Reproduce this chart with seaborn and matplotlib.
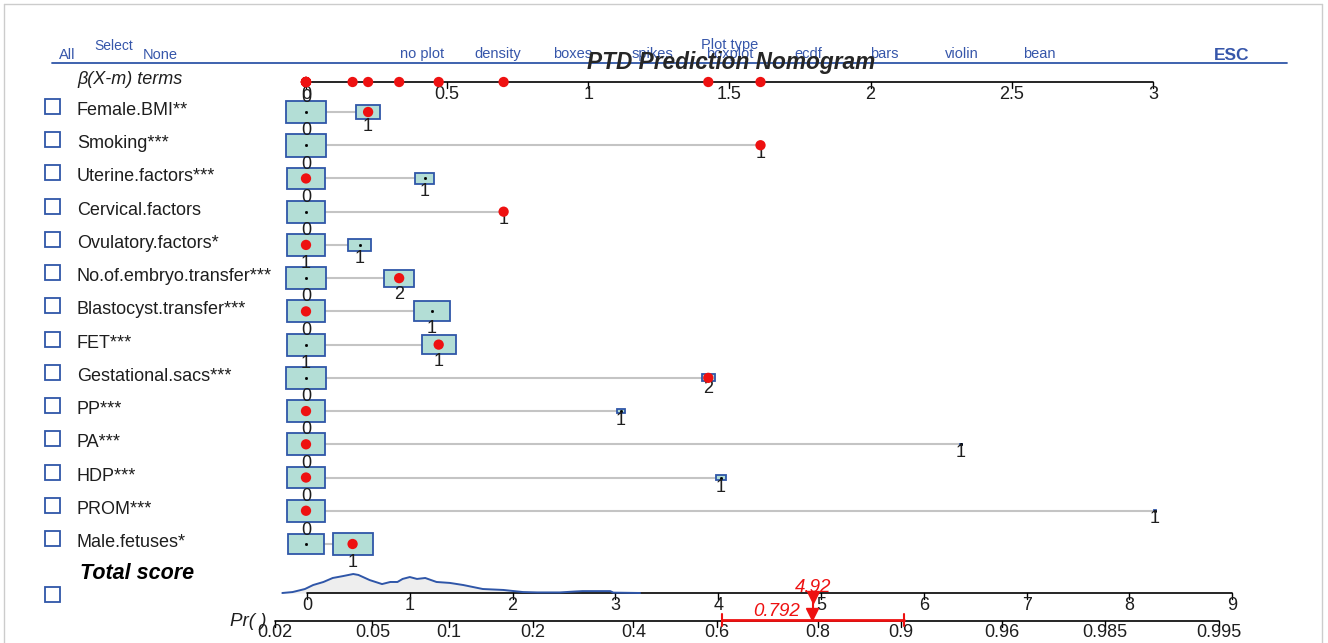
import numpy as np
import matplotlib
matplotlib.use('Agg')
import matplotlib.pyplot as plt
from matplotlib.patches import Rectangle
import seaborn as sns

# nomogram terms (one row per predictor)
variables = ['Female.BMI**', 'Smoking***', 'Uterine.factors***', 'Cervical.factors',
             'Ovulatory.factors*', 'No.of.embryo.transfer***', 'Blastocyst.transfer***',
             'FET***', 'Gestational.sacs***', 'PP***', 'PA***', 'HDP***', 'PROM***',
             'Male.fetuses*']
ref_levels = ['0', '0', '0', '0', '0', '1', '0', '0', '1', '0', '0', '0', '0', '0']
alt_levels = ['1', '1', '1', '1', '1', '2', '1', '1', '2', '1', '1', '1', '1', '1']
alt_beta = [0.22, 1.61, 0.42, 0.70, 0.19, 0.33, 0.446, 0.47, 1.425, 1.116, 2.32, 1.47, 3.007, 0.165]
# share of patients in each level (drives box size)
ref_share = [0.98, 0.98, 0.90, 0.90, 0.90, 0.92, 0.90, 0.90, 0.92, 0.90, 0.90, 0.90, 0.90, 0.74]
alt_share = [0.33, 0.004, 0.20, 0.003, 0.30, 0.55, 0.75, 0.70, 0.10, 0.035, 0.004, 0.05, 0.004, 0.95]
# level of the example patient (True = second level)
patient_alt = [True, True, False, True, False, True, False, True, True, False, False, False, False, True]

beta_ticks = [0, 0.5, 1, 1.5, 2, 2.5, 3]
score_ticks = [0, 1, 2, 3, 4, 5, 6, 7, 8, 9]
pr_ticks = [0.02, 0.05, 0.1, 0.2, 0.4, 0.6, 0.8, 0.9, 0.96, 0.985, 0.995]
pr_labels = ['0.02', '0.05', '0.1', '0.2', '0.4', '0.6', '0.8', '0.9', '0.96', '0.985', '0.995']
pr_intercept = -3.58   # logit(Pr) = intercept + total score

# density of total score
density_score = [-0.24, -0.14, -0.02, 0.06, 0.16, 0.25, 0.35, 0.45, 0.50, 0.61, 0.73, 0.81,
                 0.88, 0.93, 1.00, 1.07, 1.15, 1.26, 1.39, 1.52, 1.61, 1.71, 1.91, 2.10,
                 2.24, 2.46, 2.61, 2.68, 2.95, 2.98, 3.24]
density_rel = [0.0, 0.05, 0.21, 0.42, 0.58, 0.79, 0.89, 1.0, 0.95, 0.68, 0.47, 0.58,
               0.58, 0.74, 0.84, 0.74, 0.79, 0.58, 0.53, 0.42, 0.32, 0.21, 0.16, 0.05,
               0.03, 0.03, 0.08, 0.1, 0.1, 0.02, 0.0]

total_score = 4.92
pr_value = 0.792
ci_low, ci_high = 0.612, 0.903

plot_types = ['no plot', 'density', 'boxes', 'spikes', 'boxplot', 'ecdf', 'bars', 'violin', 'bean']

sns.set_theme(style='white')
plt.rcParams['font.family'] = ['Liberation Sans', 'DejaVu Sans']

W, H = 1328, 643
ROW = 33.23     # px per row
BPX = 282.3     # px per beta unit
SPX = 102.8     # px per score unit
X0B, X0S, Y0 = 306, 307, 112

RED = '#ee1111'
BLUE = '#2f56a8'
HEAD = '#3656aa'
FACE = '#b3ded6'
INK = '#1e1e1e'


def ry(py):
    return (py - Y0) / ROW


fig = plt.figure(figsize=(W / 100, H / 100), dpi=100)
ax0 = fig.add_axes([0, 0, 1, 1])   # pixel layer for text
ax = fig.add_axes([0, 0, 1, 1])    # beta scale
ax2 = fig.add_axes([0, 0, 1, 1])   # total score scale
for a in (ax0, ax, ax2):
    a.set_axis_off()
    a.patch.set_alpha(0)

# ---- header
ax0.plot([4, 4], [4, H], color='#cccccc', lw=1)
ax0.plot([4, 1322], [4, 4], color='#cccccc', lw=1)
ax0.plot([1322, 1322], [4, H], color='#cccccc', lw=1)
ax0.plot([52, 1287], [63, 63], color=BLUE, lw=1.3)
ax0.text(67, 55, 'All', color=HEAD, fontsize=10.5, ha='center', va='center')
ax0.text(114, 46, 'Select', color=HEAD, fontsize=10, ha='center', va='center')
ax0.text(160, 55, 'None', color=HEAD, fontsize=10.5, ha='center', va='center')
type_x = [422, 498, 573, 652, 730, 808, 884, 962, 1039]
for name, px in zip(plot_types, type_x):
    ax0.text(px, 54, name, color=HEAD, fontsize=10.5, ha='center', va='center')
ax0.text(730, 45, 'Plot type', color=HEAD, fontsize=10.5, ha='center', va='center')
ax0.text(1232, 55, 'ESC', color=HEAD, fontsize=12.5, fontweight='bold', ha='center', va='center')
ax0.text(731, 63, 'PTD Prediction Nomogram', fontsize=16.3, fontweight='bold',
         fontstyle='italic', ha='center', va='center', zorder=10)

ax0.text(77, 84, r'β(X-m) terms', fontsize=13, fontstyle='italic', va='baseline', color=INK)

# ---- row labels and check boxes
for i, name in enumerate(variables):
    py = Y0 + ROW * i
    ax0.text(77, py + 3, name, fontsize=13, va='baseline', color=INK)
    ax0.add_patch(Rectangle((45, py - 13), 15, 15, fc='white', ec=BLUE, lw=1.3))
ax0.text(80, 579, 'Total score', fontsize=15.5, fontweight='bold', fontstyle='italic',
         va='baseline', color='black')
ax0.add_patch(Rectangle((45, 587), 15, 15, fc='white', ec=BLUE, lw=1.3))
ax0.text(267, 622, 'Pr( )', fontsize=13.5, fontstyle='italic', ha='right', va='center', color=INK)

# ---- beta axis
yb = ry(82)
ax.plot([beta_ticks[0], beta_ticks[-1]], [yb, yb], color='black', lw=1.2)
for t in beta_ticks:
    ax.plot([t, t], [yb, yb + 6 / ROW], color='black', lw=1)
    ax.text(t, yb + 4 / ROW, f'{t:g}', ha='center', va='top', fontsize=13, color=INK)

rows = np.arange(len(variables))
for i in rows:
    wr = 41 * np.sqrt(ref_share[i]) / BPX
    hr = 23 * np.sqrt(ref_share[i]) / ROW
    wa = 41 * np.sqrt(alt_share[i]) / BPX
    ha_ = 23 * np.sqrt(alt_share[i]) / ROW
    ax.plot([wr / 2, alt_beta[i] - wa / 2], [i, i], color='#c4c4c4', lw=1.5, zorder=1)
    ax.add_patch(Rectangle((-wr / 2, i - hr / 2), wr, hr, fc=FACE, ec=BLUE, lw=1.3, zorder=2))
    ax.add_patch(Rectangle((alt_beta[i] - wa / 2, i - ha_ / 2), wa, ha_, fc=FACE, ec=BLUE,
                           lw=1.3, zorder=2))
    ax.plot([0, alt_beta[i]], [i, i], ls='none', marker='s', ms=1.0, color='black', zorder=3)
    ax.text(0, i - hr / 2 + 1 / ROW, ref_levels[i], ha='center', va='baseline', fontsize=13,
            color=INK, zorder=4)
    ax.text(alt_beta[i], i + ha_ / 2 - 1 / ROW, alt_levels[i], ha='center', va='top',
            fontsize=13, color=INK, zorder=4)

pat_x = [b if p else 0 for b, p in zip(alt_beta, patient_alt)]
sns.scatterplot(x=pat_x, y=rows, color=RED, s=55, edgecolor='none', ax=ax, zorder=5)
sns.scatterplot(x=pat_x, y=[yb] * len(rows), color=RED, s=55, edgecolor='none', ax=ax, zorder=5)

# ---- total score axis with density
ys = ry(593)
dens_y = ys - np.array(density_rel) * 19 / ROW
ax2.fill_between(density_score, dens_y, ys, color='#eeeeee', lw=0, zorder=1)
ax2.plot([score_ticks[0], score_ticks[-1]], [ys, ys], color='black', lw=1.2, zorder=2)
sns.lineplot(x=density_score, y=dens_y, color=BLUE, lw=1.4, ax=ax2, zorder=3)
for t in score_ticks:
    ax2.plot([t, t], [ys, ys + 6 / ROW], color='black', lw=1)
    ax2.text(t, ys + 4 / ROW, str(t), ha='center', va='top', fontsize=13, color=INK)

# ---- probability axis
yp = ry(621)
pr_pos = np.log(np.array(pr_ticks) / (1 - np.array(pr_ticks))) - pr_intercept
ax2.plot([pr_pos[0], pr_pos[-1]], [yp, yp], color='black', lw=1.2)
for x, lab in zip(pr_pos, pr_labels):
    ax2.plot([x, x], [yp, yp + 6 / ROW], color='black', lw=1)
    ax2.text(x, yp + 3 / ROW, lab, ha='center', va='top', fontsize=13, color=INK)

# ---- patient prediction
x_pr = np.log(pr_value / (1 - pr_value)) - pr_intercept
xl = np.log(ci_low / (1 - ci_low)) - pr_intercept
xh = np.log(ci_high / (1 - ci_high)) - pr_intercept
ax2.plot([total_score, total_score], [ys, yp - 2 / ROW], color=RED, lw=1.5, zorder=6)
ax2.plot([total_score], [ry(597)], marker='v', ms=8, color=RED, zorder=6)
ax2.plot([x_pr], [ry(614)], marker='v', ms=8, color=RED, zorder=6)
ax2.text(total_score, ry(587), f'{total_score:g}', color=RED, fontsize=13.5, fontstyle='italic',
         ha='center', va='center', zorder=7)
ax2.plot([xl, xh], [ry(620), ry(620)], color=RED, lw=2, zorder=6)
for x in (xl, xh):
    ax2.plot([x, x], [ry(614), ry(626)], color=RED, lw=1.5, zorder=6)
ax2.text(x_pr - 13 / SPX, ry(611), f'{pr_value:g}', color=RED, fontsize=13.5, fontstyle='italic',
         ha='right', va='center', zorder=7)

# ---- scales
ax0.set_xlim(0, W)
ax0.set_ylim(H, 0)
ax.set_xlim(-X0B / BPX, (W - X0B) / BPX)
ax.set_ylim(ry(H), ry(0))
ax2.set_xlim(-X0S / SPX, (W - X0S) / SPX)
ax2.set_ylim(ry(H), ry(0))

fig.savefig('out.png', dpi=100)
